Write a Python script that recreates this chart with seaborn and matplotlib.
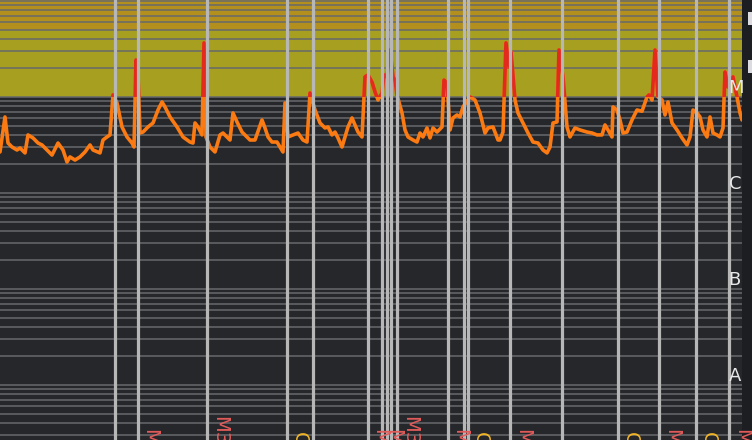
import numpy as np
import pandas as pd
import matplotlib.pyplot as plt
import seaborn as sns
from matplotlib import transforms
from matplotlib.patches import Rectangle
from matplotlib.ticker import LogLocator

# X-ray flux (W/m^2), time in hours from the left edge
hours = [0.0, 0.5, 0.8, 1.2, 1.7, 2.0, 2.5, 2.8, 3.3, 3.8, 4.2, 4.7, 5.2, 5.8, 6.3, 6.7,
         7.0, 7.5, 8.0, 8.5, 9.0, 9.3, 10.0, 10.3, 10.7, 11.0, 11.3, 11.7, 12.2, 12.7,
         13.2, 13.4, 13.6, 13.8, 14.0, 14.3, 14.8, 15.3, 15.8, 16.2, 16.5, 17.0, 17.7,
         18.3, 19.0, 19.3, 19.5, 19.8, 20.2, 20.4, 20.6, 21.0, 21.5, 22.0, 22.3, 23.0,
         23.3, 23.7, 24.2, 24.7, 25.0, 25.5, 26.2, 26.5, 26.8, 27.2, 27.7, 28.0, 28.3,
         28.5, 28.8, 29.3, 29.8, 30.3, 30.7, 31.0, 31.5, 32.0, 32.5, 32.8, 33.2, 33.5,
         33.8, 34.2, 34.5, 34.8, 35.2, 35.5, 35.8, 36.2, 36.5, 36.8, 37.2, 37.5, 37.8,
         38.2, 38.4, 38.7, 39.0, 39.3, 39.5, 39.7, 40.2, 40.5, 40.8, 41.3, 41.7, 42.0,
         42.3, 42.7, 43.0, 43.3, 43.7, 44.2, 44.4, 44.7, 45.0, 45.3, 45.7, 46.0, 46.3,
         47.0, 47.5, 48.0, 48.5, 48.8, 49.3, 49.8, 50.0, 50.3, 50.6, 50.9, 51.1, 51.5,
         51.8, 52.3, 52.8, 53.3, 53.8, 54.3, 54.7, 55.0, 55.3, 55.7, 55.9, 56.3, 56.7,
         57.0, 57.5, 58.0, 58.7, 59.2, 59.7, 60.2, 60.5, 60.8, 61.2, 61.3, 61.7, 62.0,
         62.3, 62.7, 63.2, 63.7, 64.2, 64.7, 64.9, 65.2, 65.5, 65.8, 66.2, 66.5, 66.8,
         67.2, 67.7, 68.2, 68.7, 69.0, 69.3, 69.7, 70.0, 70.3, 70.7, 71.0, 71.3, 71.7,
         72.0, 72.3, 72.5, 72.8, 73.3, 73.7, 74.0, 74.2]
flux = [2.67e-6, 6.19e-6, 3.31e-6, 3.01e-6, 2.80e-6, 2.94e-6, 2.61e-6, 4.02e-6, 3.74e-6,
        3.31e-6, 3.16e-6, 2.80e-6, 2.48e-6, 3.31e-6, 2.80e-6, 2.10e-6, 2.37e-6, 2.20e-6,
        2.37e-6, 2.67e-6, 3.16e-6, 2.80e-6, 2.61e-6, 3.56e-6, 3.83e-6, 4.02e-6, 1.05e-5,
        8.66e-6, 4.87e-6, 3.83e-6, 3.31e-6, 3.01e-6, 2.43e-5, 1.70e-5, 4.21e-6, 4.31e-6,
        4.87e-6, 5.36e-6, 7.32e-6, 8.87e-6, 7.87e-6, 6.19e-6, 4.87e-6, 3.83e-6, 3.39e-6,
        3.31e-6, 5.36e-6, 4.87e-6, 4.02e-6, 3.66e-5, 3.83e-6, 3.01e-6, 2.67e-6, 4.02e-6,
        4.21e-6, 3.56e-6, 6.81e-6, 5.49e-6, 4.31e-6, 3.83e-6, 3.56e-6, 3.56e-6, 5.76e-6,
        4.75e-6, 3.83e-6, 3.39e-6, 3.39e-6, 3.01e-6, 2.67e-6, 8.66e-6, 3.83e-6, 4.02e-6,
        4.21e-6, 3.56e-6, 3.39e-6, 1.10e-5, 7.32e-6, 5.36e-6, 4.75e-6, 4.87e-6, 4.02e-6,
        4.31e-6, 3.74e-6, 3.01e-6, 3.83e-6, 4.87e-6, 6.04e-6, 5.11e-6, 4.31e-6, 3.83e-6,
        1.62e-5, 1.70e-5, 1.43e-5, 1.13e-5, 9.30e-6, 1.10e-5, 1.70e-5, 1.62e-5, 3.09e-5,
        1.62e-5, 1.50e-5, 1.05e-5, 6.81e-6, 4.53e-6, 3.83e-6, 3.56e-6, 3.39e-6, 4.21e-6,
        3.83e-6, 4.75e-6, 3.74e-6, 4.75e-6, 4.31e-6, 4.87e-6, 1.50e-5, 1.40e-5, 4.53e-6,
        6.04e-6, 6.49e-6, 6.19e-6, 7.87e-6, 1.00e-5, 9.30e-6, 6.81e-6, 4.21e-6, 4.75e-6,
        4.87e-6, 3.56e-6, 3.56e-6, 4.31e-6, 3.66e-5, 2.06e-5, 2.95e-5, 9.30e-6, 6.81e-6,
        5.36e-6, 4.21e-6, 3.39e-6, 3.31e-6, 2.80e-6, 2.61e-6, 3.01e-6, 5.36e-6, 5.49e-6,
        3.09e-5, 1.62e-5, 4.87e-6, 3.83e-6, 4.75e-6, 4.53e-6, 4.31e-6, 4.21e-6, 4.02e-6,
        4.02e-6, 5.11e-6, 4.53e-6, 3.83e-6, 7.87e-6, 7.32e-6, 5.76e-6, 4.21e-6, 4.31e-6,
        5.76e-6, 7.32e-6, 7.10e-6, 1.00e-5, 1.05e-5, 9.30e-6, 3.09e-5, 1.00e-5, 9.30e-6,
        6.49e-6, 8.87e-6, 5.36e-6, 4.53e-6, 3.74e-6, 3.16e-6, 3.83e-6, 7.32e-6, 6.81e-6,
        6.19e-6, 4.53e-6, 3.83e-6, 6.19e-6, 4.21e-6, 4.02e-6, 3.83e-6, 4.75e-6, 1.82e-5,
        1.27e-5, 1.62e-5, 1.00e-5, 6.81e-6, 5.76e-6]

# flare events (vertical markers) and their class labels
event_hours = [11.5, 13.75, 20.7, 28.7, 31.3, 36.75, 38.15, 38.65, 39.1, 39.7, 44.75,
               46.4, 46.75, 51.0, 56.2, 61.75, 65.9, 69.55, 72.9]
event_labels = ["", "M2.4", "M3.6", "C8.7", "", "M1.7", "M1.4", "", "", "M3.1", "M1.5",
                "", "C9.9", "M3.7", "", "C7.9", "M3.1", "C7.3", "M1.8"]
label_row = [1, 1, 0, 1, 1, 1, 1, 1, 1, 0, 1, 1, 1, 1, 1, 1, 1, 1, 1]

class_letters = ["A", "B", "C", "M", "X"]
class_floor = [1e-8, 1e-7, 1e-6, 1e-5, 1e-4]

BG = "#25272b"
sns.set_theme(style="dark", rc={"axes.facecolor": BG, "figure.facecolor": "#1d1e21"})
plt.rcParams["font.family"] = ["DejaVu Sans"]

df = pd.DataFrame({"hours": hours, "flux": flux})

fig = plt.figure(figsize=(7.52, 4.40), dpi=100)
ax = fig.add_axes([0, 0, 742 / 752, 1])
ax.set_yscale("log")

# class bands
ax.axhspan(1e-5, 1e-3, color="#a69f1f", zorder=1, lw=0)
ax.axhspan(5e-5, 1e-3, color="#b3901d", zorder=1.1, lw=0)

sns.lineplot(data=df, x="hours", y="flux", color="#fb7a12", lw=2.6, ax=ax, zorder=3)
sns.lineplot(data=df, x="hours", y="flux", color="#e42a1c", lw=2.6, ax=ax, zorder=3.2)
red = ax.lines[-1]
above = Rectangle((0, 1e-5), 1, 1,
                  transform=transforms.blended_transform_factory(ax.transAxes, ax.transData))
red.set_clip_path(above)

for t in event_hours:
    ax.axvline(t, color="#b7b7b7", lw=2.3, zorder=4)

lab_tf = transforms.blended_transform_factory(ax.transData, ax.transAxes)
for t, lab, row in zip(event_hours, event_labels, label_row):
    if not lab:
        continue
    is_c = lab.startswith("C")
    col = "#f2b526" if is_c else "#e35b5b"
    top_px = 416 if row == 0 else (432 if is_c else 429)
    ax.text(t + 0.3, 1 - top_px / 440, lab, rotation=-90, ha="left", va="top",
            color=col, fontsize=14, transform=lab_tf, zorder=5, clip_on=False)

cls_tf = transforms.blended_transform_factory(ax.transAxes, ax.transData)
for letter, lo in zip(class_letters, class_floor):
    ax.text(0.982, lo, letter, ha="left", va="bottom", color="#e8e8e8",
            fontsize=13, transform=cls_tf, zorder=5)

ax.set_xlim(0, 74.2)
ax.set_ylim(2.65e-9, 1.026e-4)
ax.yaxis.set_major_locator(LogLocator(base=10))
ax.yaxis.set_minor_locator(LogLocator(base=10, subs=np.arange(2, 10)))
ax.set_axisbelow(False)
ax.grid(False, axis="x")
ax.grid(True, axis="y", which="both", color="#67696d", lw=1.1)
ax.tick_params(which="both", length=0, labelleft=False, labelbottom=False)
ax.set_xlabel("")
ax.set_ylabel("")
for s in ax.spines.values():
    s.set_visible(False)

# bits of the side panel peeking in at the right edge
for top in (12, 60):
    fig.add_artist(Rectangle((748 / 752, 1 - (top + 13) / 440), 6 / 752, 13 / 440,
                             transform=fig.transFigure, color="#dcdce0", lw=0))

fig.savefig("out.png", dpi=100)
